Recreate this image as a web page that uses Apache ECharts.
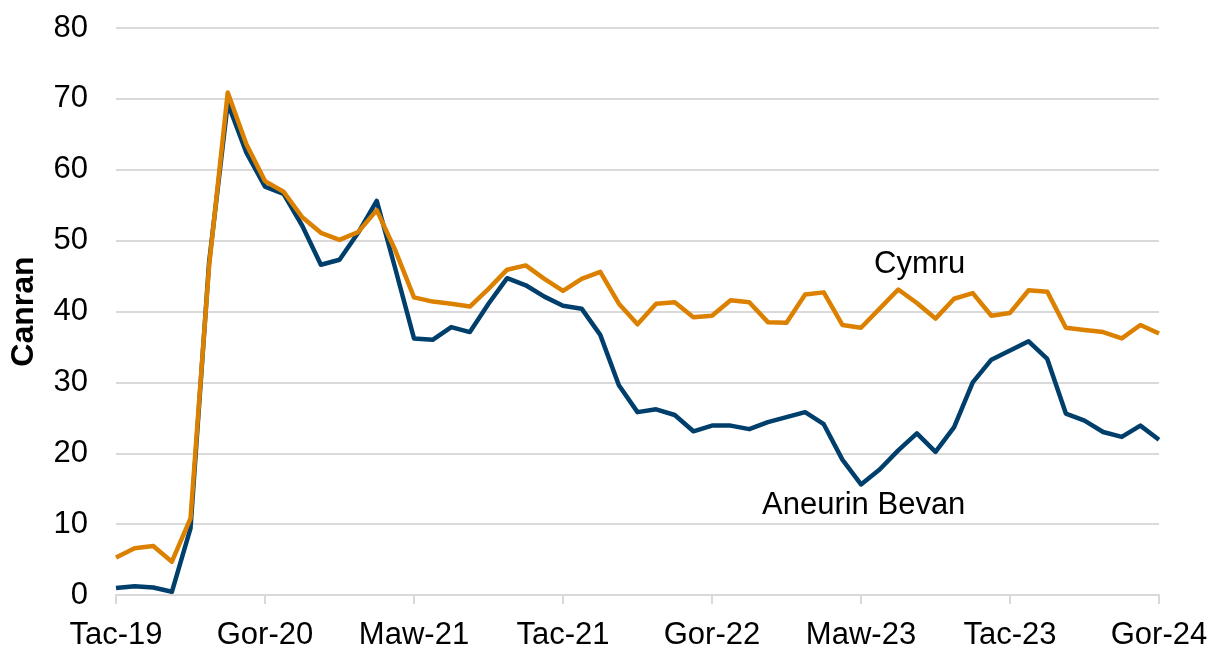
<!DOCTYPE html>
<html>

<head>
    <meta charset="utf-8">
    <title>Canran</title>
    <style>
        html, body { margin: 0; padding: 0; background: #fff; }
        #chartBox { width: 1221px; height: 648px; }
    </style>
</head>

<body>
    <div id="chartBox"></div>

    <script src="https://cdn.jsdelivr.net/npm/echarts@6/dist/echarts.min.js"></script>
    <script>
        // misoedd Tac-19 .. Gor-24
        var months = [
            'Tac-19', 'Rha-19',
            'Ion-20', 'Chw-20', 'Maw-20', 'Ebr-20', 'Mai-20', 'Meh-20', 'Gor-20', 'Aws-20', 'Med-20', 'Hyd-20', 'Tac-20', 'Rha-20',
            'Ion-21', 'Chw-21', 'Maw-21', 'Ebr-21', 'Mai-21', 'Meh-21', 'Gor-21', 'Aws-21', 'Med-21', 'Hyd-21', 'Tac-21', 'Rha-21',
            'Ion-22', 'Chw-22', 'Maw-22', 'Ebr-22', 'Mai-22', 'Meh-22', 'Gor-22', 'Aws-22', 'Med-22', 'Hyd-22', 'Tac-22', 'Rha-22',
            'Ion-23', 'Chw-23', 'Maw-23', 'Ebr-23', 'Mai-23', 'Meh-23', 'Gor-23', 'Aws-23', 'Med-23', 'Hyd-23', 'Tac-23', 'Rha-23',
            'Ion-24', 'Chw-24', 'Maw-24', 'Ebr-24', 'Mai-24', 'Meh-24', 'Gor-24'
        ];

        var aneurinBevan = [
            1.0, 1.25, 1.05, 0.45, 9.4, 47.0, 69.4, 62.4, 57.6, 56.6,
            52.1, 46.6, 47.3, 51.1, 55.6, 46.0, 36.2, 36.0, 37.8, 37.1,
            41.1, 44.7, 43.7, 42.1, 40.8, 40.4, 36.7, 29.6, 25.8, 26.2,
            25.4, 23.1, 23.9, 23.9, 23.4, 24.4, 25.1, 25.8, 24.1, 19.1,
            15.6, 17.7, 20.4, 22.8, 20.2, 23.7, 30.0, 33.2, 34.5, 35.8,
            33.3, 25.6, 24.6, 23.0, 22.3, 23.9, 21.9
        ];

        var cymru = [
            5.3, 6.6, 6.9, 4.7, 10.8, 46.5, 70.9, 63.6, 58.4, 56.9,
            53.3, 51.1, 50.1, 51.2, 54.3, 48.6, 42.0, 41.4, 41.1, 40.7,
            43.2, 45.9, 46.5, 44.6, 42.9, 44.6, 45.6, 41.1, 38.2, 41.1,
            41.3, 39.2, 39.4, 41.6, 41.3, 38.5, 38.4, 42.4, 42.7, 38.1,
            37.7, 40.4, 43.1, 41.2, 39.0, 41.8, 42.6, 39.4, 39.8, 43.0,
            42.8, 37.7, 37.4, 37.1, 36.2, 38.1, 36.9
        ];

        var myChart = echarts.init(document.getElementById('chartBox'));
        var fontFam = '"Liberation Sans", Arial, sans-serif';

        var option = {
            animation: false,
            backgroundColor: '#fff',
            textStyle: { fontFamily: fontFam },
            grid: { left: 116, right: 62, top: 28, bottom: 53, containLabel: false, outerBoundsMode: 'none' },
            xAxis: {
                type: 'category',
                data: months,
                boundaryGap: false,
                axisLine: { lineStyle: { color: '#d9d9d9', width: 2 } },
                axisTick: { show: true, interval: 7, length: 9, lineStyle: { color: '#d9d9d9', width: 2 } },
                axisLabel: { interval: 7, color: '#000', fontSize: 31, margin: 25, fontFamily: fontFam },
                splitLine: { show: false }
            },
            yAxis: {
                type: 'value',
                min: 0,
                max: 80,
                interval: 10,
                name: 'Canran',
                nameLocation: 'middle',
                nameGap: 76,
                nameTextStyle: { color: '#000', fontSize: 32, fontWeight: 'bold', fontFamily: fontFam },
                axisLine: { show: false },
                axisTick: { show: false },
                axisLabel: { color: '#000', fontSize: 31, margin: 28, fontFamily: fontFam },
                splitLine: { lineStyle: { color: '#d9d9d9', width: 2 } }
            },
            graphic: [
                {
                    type: 'text', left: 874, top: 249,
                    style: { text: 'Cymru', fill: '#000', fontSize: 31, fontFamily: fontFam }
                },
                {
                    type: 'text', left: 762, top: 490,
                    style: { text: 'Aneurin Bevan', fill: '#000', fontSize: 31, fontFamily: fontFam }
                }
            ],
            series: [
                {
                    name: 'Aneurin Bevan',
                    type: 'line',
                    data: aneurinBevan,
                    showSymbol: false,
                    lineStyle: { color: '#003f6c', width: 4.5, join: 'round' },
                    itemStyle: { color: '#003f6c' }
                },
                {
                    name: 'Cymru',
                    type: 'line',
                    data: cymru,
                    showSymbol: false,
                    lineStyle: { color: '#dc8000', width: 4.5, join: 'round' },
                    itemStyle: { color: '#dc8000' }
                }
            ]
        };

        myChart.setOption(option);
    </script>

</body>

</html>
